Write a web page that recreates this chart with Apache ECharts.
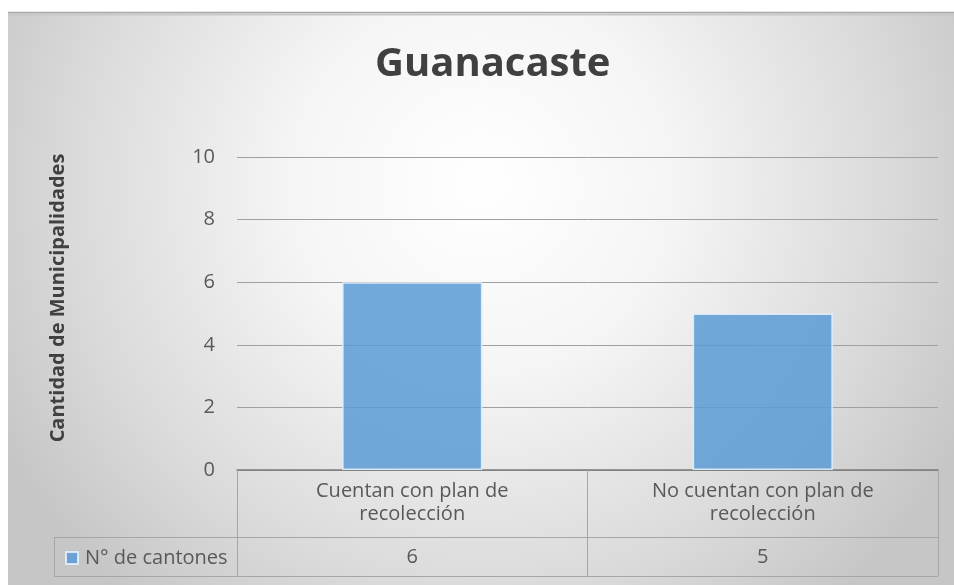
<!DOCTYPE html>
<html>
<head>
<meta charset="utf-8">
<script src="https://cdn.jsdelivr.net/npm/echarts@6/dist/echarts.min.js"></script>
<style>
  html, body { margin: 0; padding: 0; background: #ffffff; }
  #chart { width: 954px; height: 585px; }
</style>
</head>
<body>
<div id="chart"></div>
<script>
// Chart data
const titleText = 'Guanacaste';
const yAxisTitle = 'Cantidad de Municipalidades';
const seriesName = 'N° de cantones';
const categories = ['Cuentan con plan de\nrecolección', 'No cuentan con plan de\nrecolección'];
const cantones = [6, 5];
const yTicks = [0, 2, 4, 6, 8, 10];

// Layout (pixels)
const W = 954, H = 585;
const plotLeft = 237, plotRight = 938, plotTop = 157, plotBottom = 470;
const row1Bottom = 537, row2Bottom = 576, tableLeft = 54;
const FONT = '"Open Sans", "Noto Sans", sans-serif';
const TEXT = '#595959';
const BORDER = '#a6a6a6';

const chart = echarts.init(document.getElementById('chart'), null, { renderer: 'canvas' });

const option = {
  backgroundColor: '#ffffff',
  animation: false,
  textStyle: { fontFamily: FONT },
  title: {
    text: titleText,
    left: 370,
    top: 40,
    textStyle: { fontFamily: FONT, fontSize: 40, fontWeight: 'bold', color: '#404040' }
  },
  legend: {
    data: [seriesName],
    left: 60,
    top: 543,
    icon: 'rect',
    itemWidth: 12,
    itemHeight: 12,
    selectedMode: false,
    textStyle: { fontFamily: FONT, fontSize: 20, color: TEXT, padding: [0, 0, 0, 2] }
  },
  grid: {
    left: plotLeft,
    right: W - plotRight,
    top: plotTop,
    bottom: H - plotBottom,
    containLabel: false
  },
  xAxis: [
    {
      type: 'category',
      data: categories,
      boundaryGap: true,
      position: 'bottom',
      axisLine: { show: true, lineStyle: { color: '#7a7a7a', width: 1.5 } },
      axisTick: { show: true, length: row2Bottom - plotBottom, lineStyle: { color: BORDER, width: 1 } },
      axisLabel: {
        margin: 10,
        fontFamily: FONT,
        fontSize: 20,
        lineHeight: 23,
        color: TEXT,
        align: 'center'
      },
      splitLine: { show: false }
    },
    {
      type: 'category',
      data: categories,
      boundaryGap: true,
      position: 'bottom',
      axisLine: { show: false },
      axisTick: { show: false },
      axisLabel: {
        margin: 75,
        fontFamily: FONT,
        fontSize: 20,
        lineHeight: 24,
        color: TEXT,
        formatter: (v, i) => String(cantones[i])
      },
      splitLine: { show: false }
    }
  ],
  yAxis: {
    type: 'value',
    min: yTicks[0],
    max: yTicks[yTicks.length - 1],
    interval: yTicks[1] - yTicks[0],
    axisLine: { show: false },
    axisTick: { show: false },
    axisLabel: { margin: 22, fontFamily: FONT, fontSize: 20, color: TEXT },
    splitLine: { show: true, lineStyle: { color: '#a0a0a0', width: 1 } }
  },
  series: [
    {
      name: seriesName,
      type: 'bar',
      xAxisIndex: 0,
      data: cantones,
      barWidth: '40%',
      itemStyle: {
        color: 'rgba(91,155,213,0.85)',
        borderColor: 'rgba(225,238,250,0.9)',
        borderWidth: 1.5
      },
      label: { show: false }
    }
  ],
  graphic: [
    {
      // Background panel with soft radial shading
      type: 'rect',
      z: -100,
      silent: true,
      shape: { x: 8, y: 12, width: W - 8, height: H - 12 },
      style: {
        fill: {
          type: 'radial', x: 0.5, y: 0.3, r: 0.95,
          colorStops: [
            { offset: 0, color: '#ffffff' },
            { offset: 0.35, color: '#f5f5f5' },
            { offset: 0.75, color: '#dadada' },
            { offset: 1, color: '#c6c6c6' }
          ]
        },
        stroke: null
      }
    },
    {
      type: 'line', z: -90, silent: true,
      shape: { x1: 8, y1: 12.5, x2: W, y2: 12.5 },
      style: { stroke: '#a8a8a8', lineWidth: 1.5 }
    },
    {
      type: 'line', z: -90, silent: true,
      shape: { x1: 8, y1: 14.5, x2: W, y2: 14.5 },
      style: { stroke: '#c8c8c8', lineWidth: 2 }
    },
    // Data table borders
    {
      type: 'line', z: 5, silent: true,
      shape: { x1: tableLeft, y1: row1Bottom + 0.5, x2: plotRight, y2: row1Bottom + 0.5 },
      style: { stroke: BORDER, lineWidth: 1 }
    },
    {
      type: 'line', z: 5, silent: true,
      shape: { x1: tableLeft, y1: row2Bottom + 0.5, x2: plotRight, y2: row2Bottom + 0.5 },
      style: { stroke: BORDER, lineWidth: 1 }
    },
    {
      type: 'line', z: 5, silent: true,
      shape: { x1: tableLeft + 0.5, y1: row1Bottom, x2: tableLeft + 0.5, y2: row2Bottom },
      style: { stroke: BORDER, lineWidth: 1 }
    },
    {
      // Vertical axis title
      type: 'text', z: 5, silent: true,
      x: 58, y: 298, rotation: Math.PI / 2,
      style: {
        text: yAxisTitle,
        fontFamily: FONT, fontSize: 20, fontWeight: 'bold',
        fill: '#404040', align: 'center', verticalAlign: 'middle'
      }
    }
  ]
};

chart.setOption(option);
</script>
</body>
</html>
